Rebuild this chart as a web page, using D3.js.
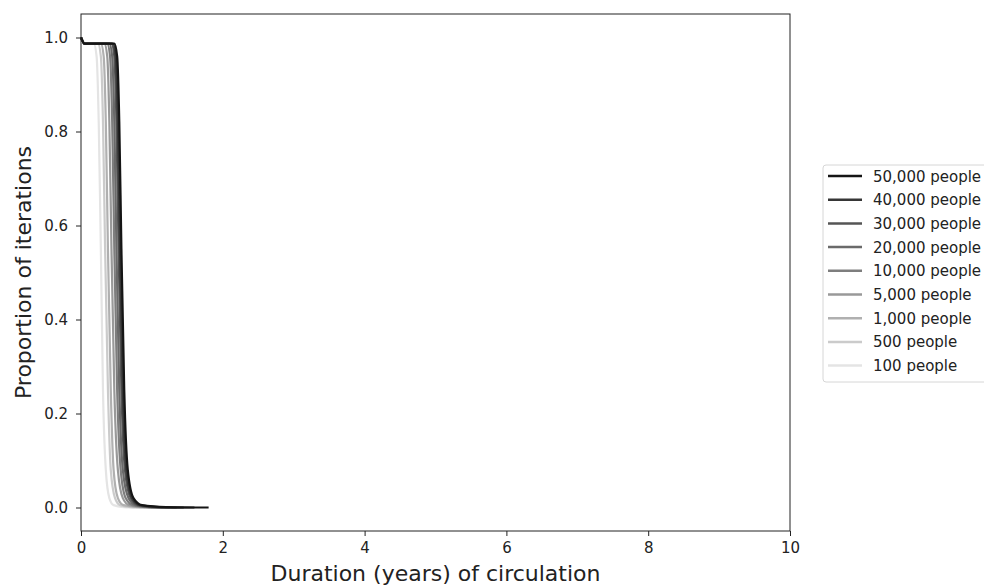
<!DOCTYPE html>
<html>
<head>
<meta charset="utf-8">
<style>
  body { margin: 0; background: #fff; }
  svg { display: block; font-family: "DejaVu Sans", sans-serif; }
</style>
</head>
<body>
<svg width="984" height="587"></svg>
<script src="https://d3js.org/d3.v7.min.js"></script>
<script>
  // population sizes, darkest first (legend order)
  const labels = ["50,000 people", "40,000 people", "30,000 people", "20,000 people",
    "10,000 people", "5,000 people", "1,000 people", "500 people", "100 people"];
  const colors = ["#151515", "#363636", "#555555", "#6a6a6a", "#7e7e7e",
    "#999999", "#b0b0b0", "#cbcbcb", "#e4e4e4"];

  // survival curves: [years, proportion]
  const s50000 = [[0, 1], [0.05, 0.987], [0.47, 0.987], [0.51, 0.96], [0.54, 0.82], [0.57, 0.55], [0.61, 0.25], [0.66, 0.08], [0.74, 0.02], [0.86, 0.005], [1.2, 0.001], [1.8, 0]];
  const s40000 = [[0, 1], [0.05, 0.987], [0.45, 0.987], [0.49, 0.96], [0.52, 0.82], [0.55, 0.55], [0.59, 0.25], [0.64, 0.08], [0.72, 0.02], [0.83, 0.005], [1.1, 0.001], [1.6, 0]];
  const s30000 = [[0, 1], [0.05, 0.987], [0.43, 0.987], [0.47, 0.96], [0.50, 0.82], [0.53, 0.55], [0.57, 0.25], [0.62, 0.08], [0.70, 0.02], [0.80, 0.005], [1.05, 0.001], [1.45, 0]];
  const s20000 = [[0, 1], [0.05, 0.987], [0.40, 0.987], [0.44, 0.96], [0.47, 0.82], [0.50, 0.55], [0.54, 0.25], [0.59, 0.08], [0.67, 0.02], [0.77, 0.005], [1.0, 0.001], [1.35, 0]];
  const s10000 = [[0, 1], [0.05, 0.987], [0.37, 0.987], [0.41, 0.96], [0.44, 0.82], [0.47, 0.55], [0.51, 0.25], [0.56, 0.08], [0.63, 0.02], [0.73, 0.005], [0.95, 0.001], [1.25, 0]];
  const s5000 = [[0, 1], [0.05, 0.987], [0.33, 0.987], [0.37, 0.96], [0.40, 0.82], [0.43, 0.55], [0.47, 0.25], [0.52, 0.08], [0.59, 0.02], [0.68, 0.005], [0.9, 0.001], [1.15, 0]];
  const s1000 = [[0, 1], [0.05, 0.987], [0.28, 0.987], [0.32, 0.96], [0.35, 0.82], [0.38, 0.55], [0.42, 0.25], [0.46, 0.08], [0.52, 0.02], [0.60, 0.005], [0.8, 0.001], [1.0, 0]];
  const s500 = [[0, 1], [0.05, 0.987], [0.24, 0.987], [0.28, 0.96], [0.31, 0.82], [0.34, 0.55], [0.38, 0.25], [0.42, 0.08], [0.48, 0.02], [0.55, 0.005], [0.7, 0.001], [0.9, 0]];
  const s100 = [[0, 1], [0.05, 0.987], [0.18, 0.987], [0.22, 0.96], [0.25, 0.82], [0.28, 0.55], [0.31, 0.25], [0.35, 0.08], [0.40, 0.02], [0.46, 0.005], [0.6, 0.001], [0.8, 0]];
  const series = [s50000, s40000, s30000, s20000, s10000, s5000, s1000, s500, s100];

  const xTicks = [0, 2, 4, 6, 8, 10];
  const yTicks = [0, 0.2, 0.4, 0.6, 0.8, 1.0];

  const svg = d3.select("svg");
  const margin = { top: 14, right: 194, bottom: 56, left: 81 };
  const width = 984 - margin.left - margin.right;   // 709
  const height = 587 - margin.top - margin.bottom;  // 517

  const x = d3.scaleLinear().domain([0, 10]).range([0, width]);
  const y = d3.scaleLinear().domain([-0.05, 1.05]).range([height, 0]);

  const g = svg.append("g").attr("transform", "translate(" + margin.left + "," + margin.top + ")");

  const line = d3.line()
    .x(d => x(d[0]))
    .y(d => y(d[1]))
    .curve(d3.curveMonotoneX);

  // lightest first so the black curve sits on top
  const order = d3.range(series.length).reverse();
  g.append("g").selectAll("path")
    .data(order)
    .join("path")
    .attr("d", i => line(series[i]))
    .attr("fill", "none")
    .attr("stroke", i => colors[i])
    .attr("stroke-width", 2.2);

  // axes
  const xAxis = g.append("g")
    .attr("transform", "translate(0," + height + ")")
    .call(d3.axisBottom(x).tickValues(xTicks).tickFormat(d3.format("d")).tickSizeOuter(0).tickSize(5).tickPadding(6));
  const yAxis = g.append("g")
    .call(d3.axisLeft(y).tickValues(yTicks).tickFormat(d3.format(".1f")).tickSizeOuter(0).tickSize(5).tickPadding(8));
  [xAxis, yAxis].forEach(a => {
    a.selectAll("text").attr("font-size", 15).attr("font-family", "DejaVu Sans").attr("fill", "#222");
    a.selectAll("line").attr("stroke", "#222");
    a.select(".domain").remove();
  });

  // frame
  g.append("rect")
    .attr("width", width).attr("height", height)
    .attr("fill", "none").attr("stroke", "#222").attr("stroke-width", 1);

  // axis titles
  svg.append("text")
    .attr("x", margin.left + width / 2)
    .attr("y", 581)
    .attr("text-anchor", "middle")
    .attr("font-size", 22)
    .attr("fill", "#222")
    .text("Duration (years) of circulation");
  svg.append("text")
    .attr("transform", "translate(31," + (margin.top + y(0.5)) + ") rotate(-90)")
    .attr("text-anchor", "middle")
    .attr("font-size", 22)
    .attr("fill", "#222")
    .text("Proportion of iterations");

  // legend
  const lg = svg.append("g").attr("transform", "translate(823,165)");
  lg.append("rect")
    .attr("width", 175).attr("height", 217)
    .attr("rx", 3)
    .attr("fill", "#fff").attr("stroke", "#d6d6d6");
  const item = lg.selectAll("g.item")
    .data(labels)
    .join("g")
    .attr("class", "item")
    .attr("transform", (d, i) => "translate(0," + (11 + i * 23.7) + ")");
  item.append("line")
    .attr("x1", 5).attr("x2", 39)
    .attr("stroke", (d, i) => colors[i])
    .attr("stroke-width", 2.5);
  item.append("text")
    .attr("x", 50).attr("y", 5.5)
    .attr("font-size", 15)
    .attr("fill", "#222")
    .text(d => d);
</script>
</body>
</html>
